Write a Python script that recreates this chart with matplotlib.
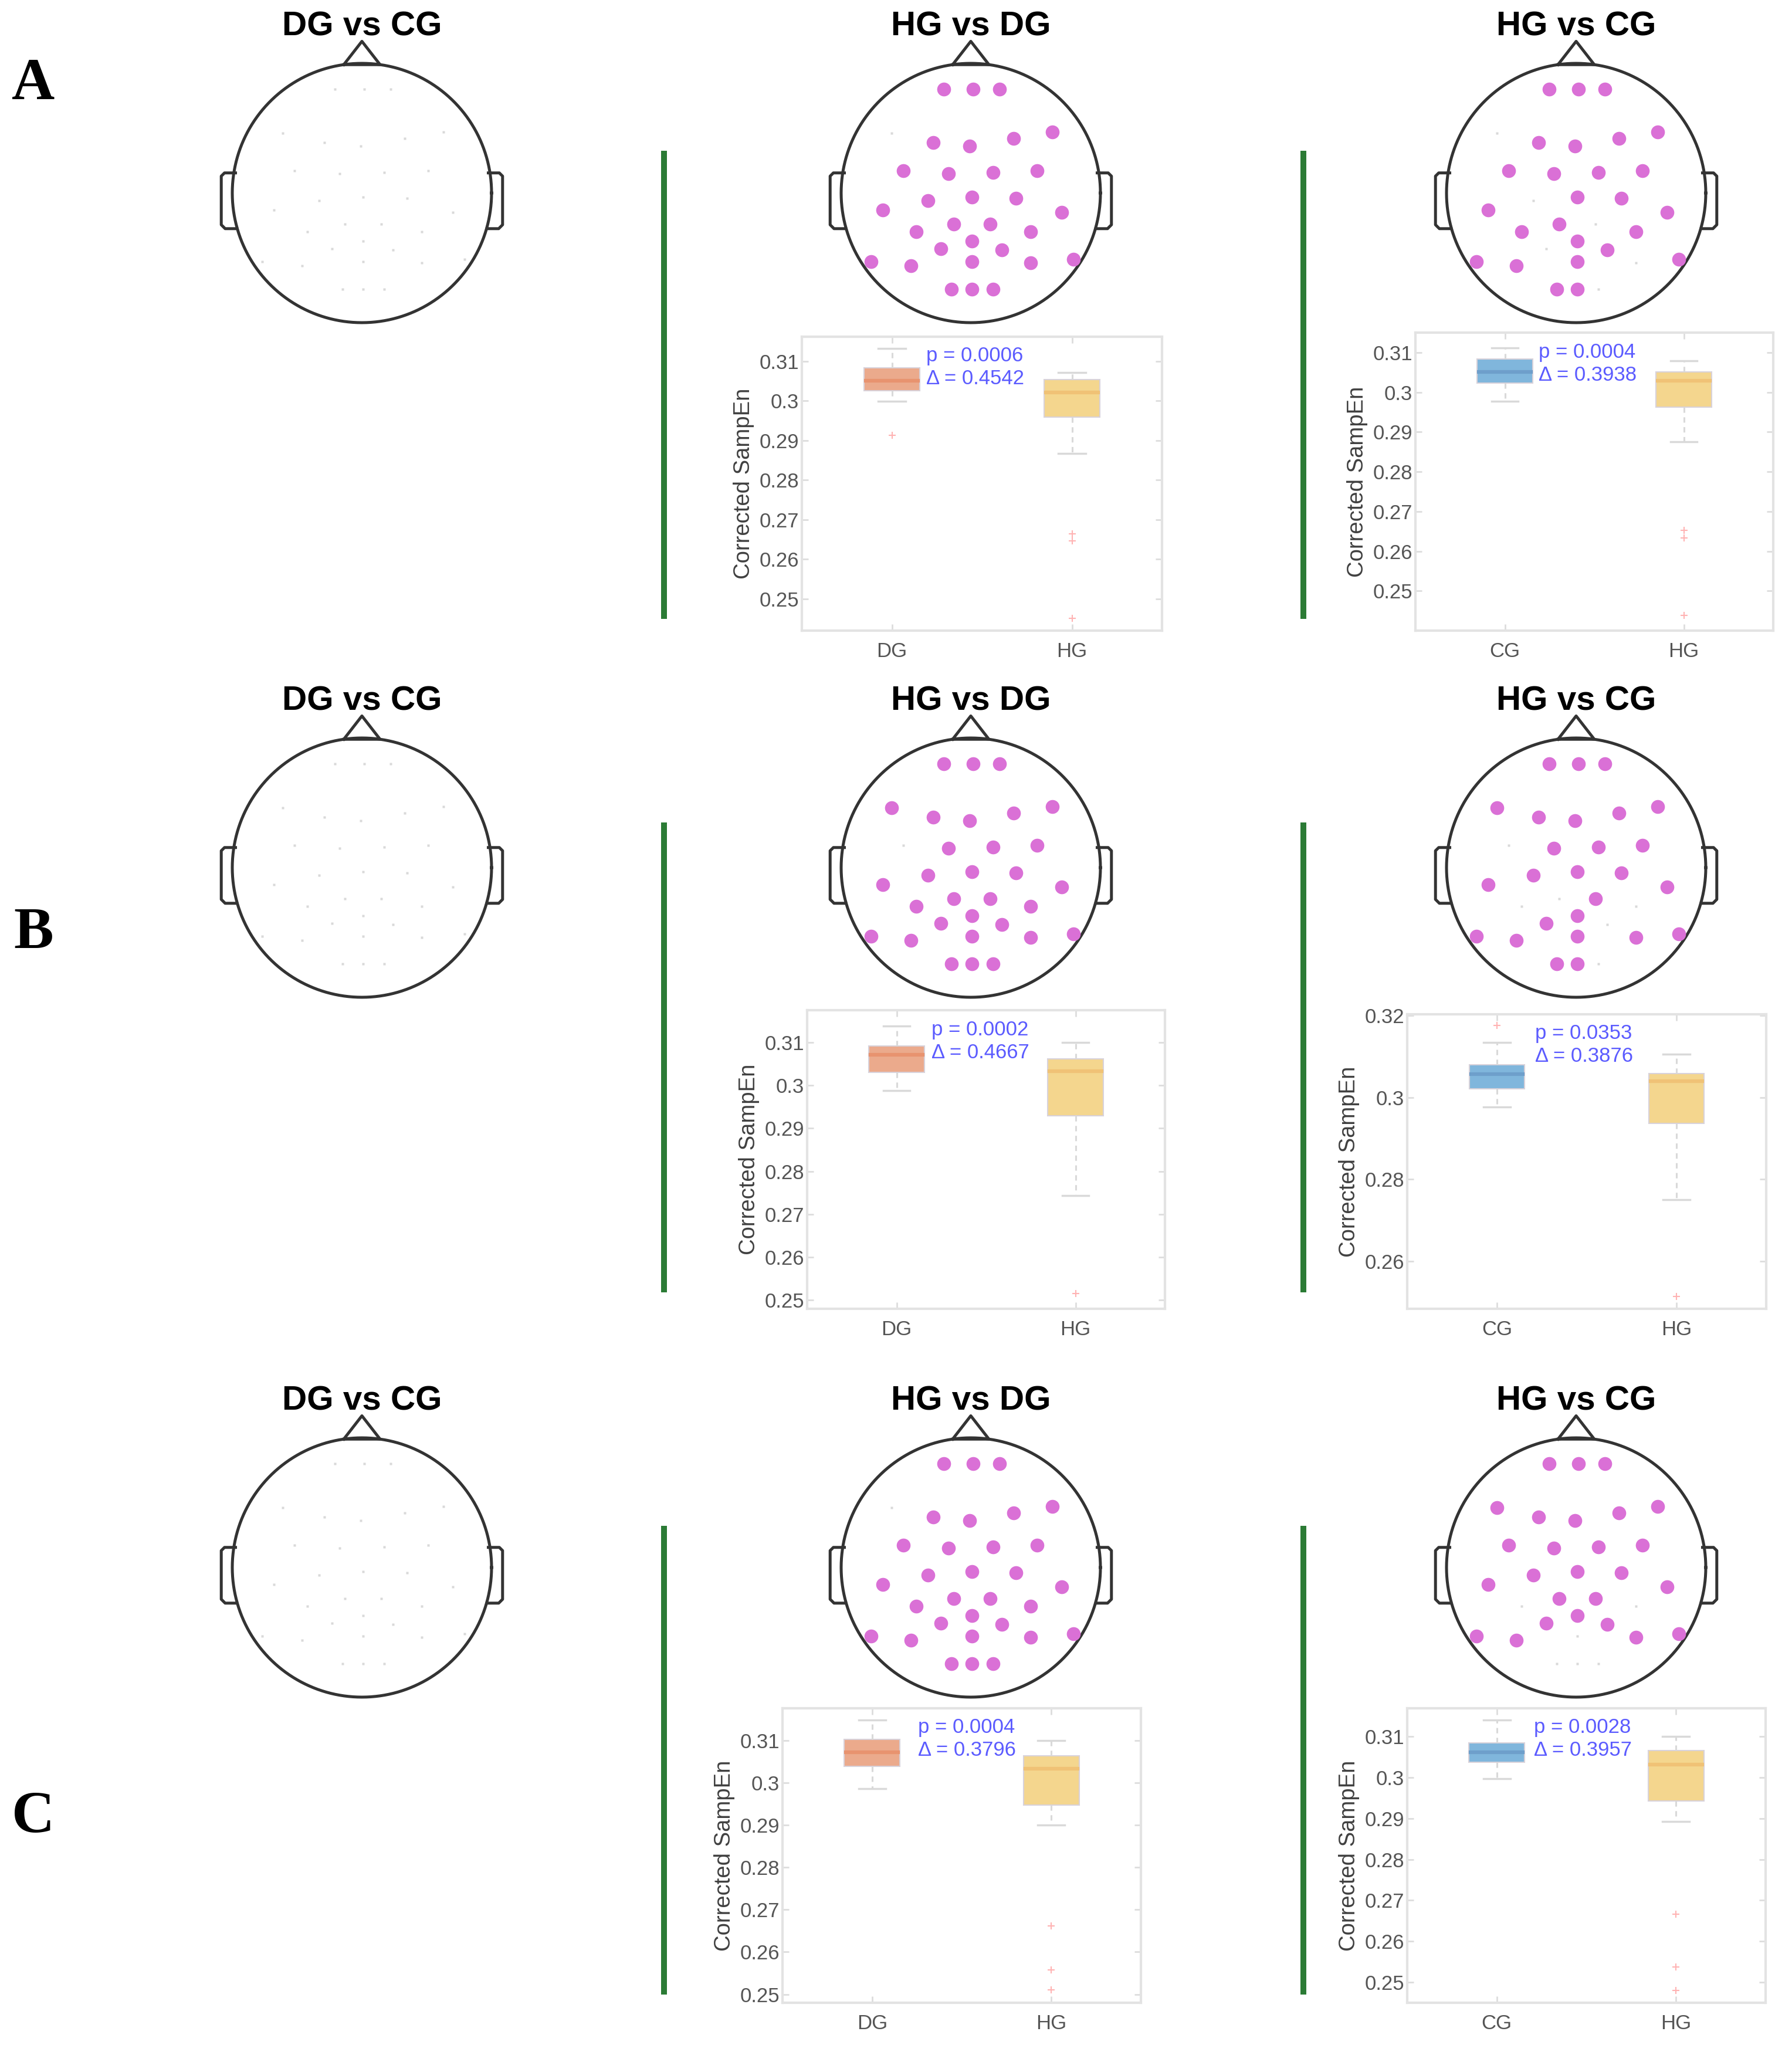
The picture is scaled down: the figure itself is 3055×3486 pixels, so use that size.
import numpy as np
import matplotlib
matplotlib.use("Agg")
import matplotlib.pyplot as plt
from matplotlib.lines import Line2D

W, H, DPI = 3055, 3486, 100
plt.rcParams['font.family'] = ['Liberation Sans', 'DejaVu Sans']

# ---------------- data ----------------
electrode_names = ['Fp1', 'Fpz', 'Fp2',
                   'F7', 'F3', 'Fz', 'F4', 'F8',
                   'FC5', 'FC1', 'FC2', 'FC6',
                   'T7', 'C3', 'Cz', 'C4', 'T8',
                   'CP5', 'CP1', 'CP2', 'CP6',
                   'P3', 'Pz', 'P4',
                   'P7', 'PO3', 'POz', 'PO4', 'P8',
                   'O1', 'Oz', 'O2']
electrode_x = [-0.21, 0.02, 0.22,
               -0.61, -0.29, -0.01, 0.33, 0.63,
               -0.52, -0.17, 0.17, 0.51,
               -0.68, -0.33, 0.01, 0.35, 0.70,
               -0.42, -0.13, 0.15, 0.46,
               -0.23, 0.01, 0.24,
               -0.77, -0.46, 0.01, 0.46, 0.79,
               -0.15, 0.01, 0.17]
electrode_y = [0.80, 0.80, 0.80,
               0.46, 0.39, 0.36, 0.42, 0.47,
               0.17, 0.15, 0.16, 0.17,
               -0.13, -0.06, -0.03, -0.04, -0.15,
               -0.30, -0.24, -0.24, -0.30,
               -0.43, -0.37, -0.44,
               -0.53, -0.56, -0.53, -0.54, -0.51,
               -0.74, -0.74, -0.74]

head_titles = ['DG vs CG', 'HG vs DG', 'HG vs CG']
row_labels = ['A', 'B', 'C']

# electrodes without a significant difference, per head (columns: DG vs CG, HG vs DG, HG vs CG)
nonsig_row_A = [electrode_names, ['F7'], ['F7', 'C3', 'CP2', 'P3', 'PO4', 'O2']]
nonsig_row_B = [electrode_names, ['FC5'], ['FC5', 'CP5', 'CP1', 'CP6', 'P4', 'O2']]
nonsig_row_C = [electrode_names, ['F7'], ['CP5', 'CP6', 'POz', 'O1', 'Oz', 'O2']]

# box-plot panels, order: A HG vs DG, A HG vs CG, B HG vs DG, B HG vs CG, C HG vs DG, C HG vs CG
box_groups = [['DG', 'HG'], ['CG', 'HG'], ['DG', 'HG'], ['CG', 'HG'], ['DG', 'HG'], ['CG', 'HG']]
box_whislo = [[0.2999, 0.2867], [0.2978, 0.2875], [0.2988, 0.2743],
              [0.2976, 0.2751], [0.2986, 0.2900], [0.2997, 0.2892]]
box_q1 = [[0.3026, 0.2959], [0.3023, 0.2963], [0.3030, 0.2929],
          [0.3021, 0.2937], [0.3039, 0.2947], [0.3037, 0.2942]]
box_med = [[0.3051, 0.3021], [0.3051, 0.3029], [0.3071, 0.3033],
           [0.3057, 0.3040], [0.3072, 0.3033], [0.3061, 0.3031]]
box_q3 = [[0.3084, 0.3054], [0.3084, 0.3051], [0.3092, 0.3062],
          [0.3080, 0.3058], [0.3103, 0.3064], [0.3084, 0.3066]]
box_whishi = [[0.3133, 0.3072], [0.3112, 0.3079], [0.3138, 0.3100],
              [0.3134, 0.3105], [0.3148, 0.3100], [0.3140, 0.3100]]
box_fliers = [[[0.2913], [0.2664, 0.2646, 0.2451]],
              [[], [0.2652, 0.2633, 0.2438]],
              [[], [0.2516]],
              [[0.3176], [0.2514]],
              [[], [0.2661, 0.2558, 0.2510]],
              [[], [0.2666, 0.2537, 0.2480]]]
p_values = ['0.0006', '0.0004', '0.0002', '0.0353', '0.0004', '0.0028']
effect_sizes = ['0.4542', '0.3938', '0.4667', '0.3876', '0.3796', '0.3957']
y_limits = [(0.242, 0.3162), (0.240, 0.315), (0.248, 0.3175),
            (0.2484, 0.3203), (0.248, 0.3176), (0.245, 0.3169)]
y_ticks = [[0.25, 0.26, 0.27, 0.28, 0.29, 0.30, 0.31]] * 3 + \
          [[0.26, 0.28, 0.30, 0.32]] + \
          [[0.25, 0.26, 0.27, 0.28, 0.29, 0.30, 0.31]] * 2

# ---------------- layout (pixels) ----------------
head_cx = [617, 1655, 2687]
head_cy = [329, 1479, 2672]
HEAD_R = 221
HEAD_EXT = 1.45
box_rects = [(1367, 574, 1981, 1075), (2413, 567, 3023, 1075),
             (1376, 1722, 1986, 2231), (2399, 1729, 3011, 2231),
             (1334, 2912, 1945, 3414), (2399, 2912, 3010, 3414)]
text_x = [0.345, 0.344, 0.347, 0.356, 0.378, 0.354]
green_x = [1132, 2222]
green_y = [(262, 1050), (1407, 2198), (2606, 3395)]
label_pos = [(57, 169), (57, 1617), (57, 3124)]

face_colors = {'DG': '#EBAA8C', 'CG': '#80B6DC', 'HG': '#F4D68E'}
median_colors = {'DG': '#E8936F', 'CG': '#6E9FCB', 'HG': '#F0C276'}
HEAD_COLOR = '#333333'
SIG_COLOR = '#DA70D6'
GREEN = '#2b7b35'


def px_rect(l, t, r, b):
    return [l / W, 1 - b / H, (r - l) / W, (b - t) / H]


fig = plt.figure(figsize=(W / DPI, H / DPI), dpi=DPI)


def draw_head(cx, cy, title, nonsig):
    half = HEAD_EXT * HEAD_R
    ax = fig.add_axes(px_rect(cx - half, cy - half, cx + half, cy + half))
    ax.set_xlim(-HEAD_EXT, HEAD_EXT)
    ax.set_ylim(-HEAD_EXT, HEAD_EXT)
    ax.axis('off')
    t = np.linspace(0, 2 * np.pi, 181)
    ax.plot(np.cos(t), np.sin(t), color=HEAD_COLOR, lw=3.6)
    ax.plot([-0.14, 0, 0.14, -0.14], [0.99, 1.17, 0.99, 0.99], color=HEAD_COLOR, lw=3.6)
    ear_x = np.array([-0.975, -1.06, -1.085, -1.085, -1.055, -0.965])
    ear_y = np.array([0.155, 0.155, 0.13, -0.245, -0.275, -0.275])
    ax.plot(ear_x, ear_y, color=HEAD_COLOR, lw=3.6)
    ax.plot(-ear_x, ear_y, color=HEAD_COLOR, lw=3.6)
    for name, x, y in zip(electrode_names, electrode_x, electrode_y):
        if name in nonsig:
            ax.plot(x, y, 's', ms=3, color='#d9d9d9', mec='none')
        else:
            ax.plot(x, y, 'o', ms=17, color=SIG_COLOR, mec='none')
    ax.text(0, 1.213, title, ha='center', va='baseline', fontsize=42, fontweight='bold')


def draw_box(i):
    groups = box_groups[i]
    ax = fig.add_axes(px_rect(*box_rects[i]))
    stats = []
    for k, g in enumerate(groups):
        stats.append(dict(label=g, whislo=box_whislo[i][k], q1=box_q1[i][k],
                          med=box_med[i][k], q3=box_q3[i][k],
                          whishi=box_whishi[i][k], fliers=box_fliers[i][k]))
    bp = ax.bxp(stats, positions=[1, 2], widths=0.31, patch_artist=True,
                boxprops=dict(edgecolor='#d8d2da', linewidth=1.5),
                whiskerprops=dict(color='#d9d9d9', linewidth=2.2, linestyle=(0, (3, 2.5))),
                capprops=dict(color='#d9d9d9', linewidth=2.5),
                medianprops=dict(linewidth=4.5),
                flierprops=dict(marker='+', markeredgecolor='#ffb3b3', markersize=8,
                                markeredgewidth=1.5))
    for patch, g in zip(bp['boxes'], groups):
        patch.set_facecolor(face_colors[g])
    for med, g in zip(bp['medians'], groups):
        med.set_color(median_colors[g])
    for cap in bp['caps']:
        x0, x1 = cap.get_xdata()
        c = (x0 + x1) / 2
        cap.set_xdata([c - 0.075, c + 0.075])
    ax.set_xlim(0.5, 2.5)
    ax.set_ylim(*y_limits[i])
    ax.set_yticks(y_ticks[i])
    ax.set_yticklabels([f'{v:g}' for v in y_ticks[i]])
    ax.set_xticks([1, 2])
    ax.set_xticklabels(groups)
    ax.tick_params(direction='in', length=8, width=2, color='#dddddd', labelsize=25,
                   labelcolor='#555555', top=True, right=True)
    ax.tick_params(axis='x', pad=14)
    for sp in ax.spines.values():
        sp.set_color('#e3e3e3')
        sp.set_linewidth(3)
    ax.set_ylabel('Corrected SampEn', fontsize=27.5, color='#404040', labelpad=6)
    ax.text(text_x[i], 0.935, f'p = {p_values[i]}', transform=ax.transAxes,
            color='#5b5bff', fontsize=25, va='center')
    ax.text(text_x[i], 0.857, f'\u0394 = {effect_sizes[i]}', transform=ax.transAxes,
            color='#5b5bff', fontsize=25, va='center')


nonsig_rows = [nonsig_row_A, nonsig_row_B, nonsig_row_C]
for r in range(3):
    for c in range(3):
        draw_head(head_cx[c], head_cy[r], head_titles[c], nonsig_rows[r][c])

for i in range(6):
    draw_box(i)

for (y0, y1) in green_y:
    for x in green_x:
        fig.add_artist(Line2D([x / W, x / W], [1 - y0 / H, 1 - y1 / H],
                              transform=fig.transFigure, color=GREEN, lw=7.2))

for lab, (x, y) in zip(row_labels, label_pos):
    fig.text(x / W, 1 - y / H, lab, ha='center', va='baseline', fontsize=73,
             fontweight='bold', family='Liberation Serif')

fig.savefig('out.png', dpi=DPI, facecolor='white')
